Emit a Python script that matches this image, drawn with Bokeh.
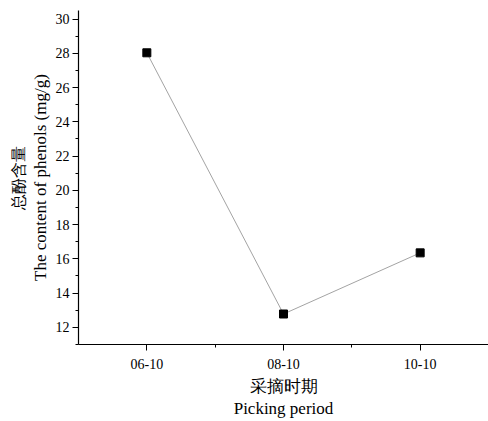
from bokeh.plotting import figure
from bokeh.models import FixedTicker, Range1d, Title
from bokeh.embed import file_html
from bokeh.resources import INLINE

# data
periods = ["06-10", "08-10", "10-10"]
phenols = [28.03, 12.78, 16.35]
y_ticks = [12, 14, 16, 18, 20, 22, 24, 26, 28, 30]
y_minor = [11, 13, 15, 17, 19, 21, 23, 25, 27, 29]

xs = list(range(1, len(periods) + 1))

SERIF = "Liberation Serif"

p = figure(width=488, height=421, output_backend="svg", toolbar_location=None,
           x_range=Range1d(0.5, 3.5), y_range=Range1d(11, 30.5),
           min_border_left=78, min_border_right=0, min_border_top=10, min_border_bottom=75)
p.outline_line_color = None
p.grid.visible = False
p.background_fill_color = "white"
p.border_fill_color = "white"

p.line(xs, phenols, line_color="#8c8c8c", line_width=0.8)
p.scatter(xs, phenols, marker="square", size=8, fill_color="black", line_color="black")

xa = p.xaxis[0]
xa.ticker = FixedTicker(ticks=xs, minor_ticks=[1.5, 2.5])
xa.major_label_overrides = {i: s for i, s in zip(xs, periods)}
xa.axis_label = "采摘时期\nPicking period"
ya = p.yaxis[0]
ya.ticker = FixedTicker(ticks=y_ticks, minor_ticks=y_minor)

for ax in (xa, ya):
    ax.axis_line_color = "black"
    ax.axis_line_width = 1.2
    ax.major_tick_line_color = "black"
    ax.minor_tick_line_color = "black"
    ax.major_tick_in = 0
    ax.major_tick_out = 6
    ax.minor_tick_in = 0
    ax.minor_tick_out = 3
    ax.major_label_text_font = SERIF
    ax.major_label_text_font_size = "14px"
    ax.major_label_text_color = "black"
    ax.axis_label_text_font = SERIF
    ax.axis_label_text_font_size = "17px"
    ax.axis_label_text_font_style = "normal"
    ax.axis_label_text_color = "black"
xa.major_label_standoff = 8
xa.axis_label_standoff = 5
ya.major_label_standoff = 3

t_en = Title(text="The content of phenols (mg/g)", align="center", offset=-12, standoff=5,
             text_font=SERIF, text_font_size="17px", text_font_style="normal", text_color="black")
t_zh = Title(text="总酚含量", align="center", offset=0, standoff=0,
             text_font=SERIF, text_font_size="16px", text_font_style="normal", text_color="black")
p.add_layout(t_en, "left")
p.add_layout(t_zh, "left")

open("out.html", "w").write(file_html(p, INLINE))
